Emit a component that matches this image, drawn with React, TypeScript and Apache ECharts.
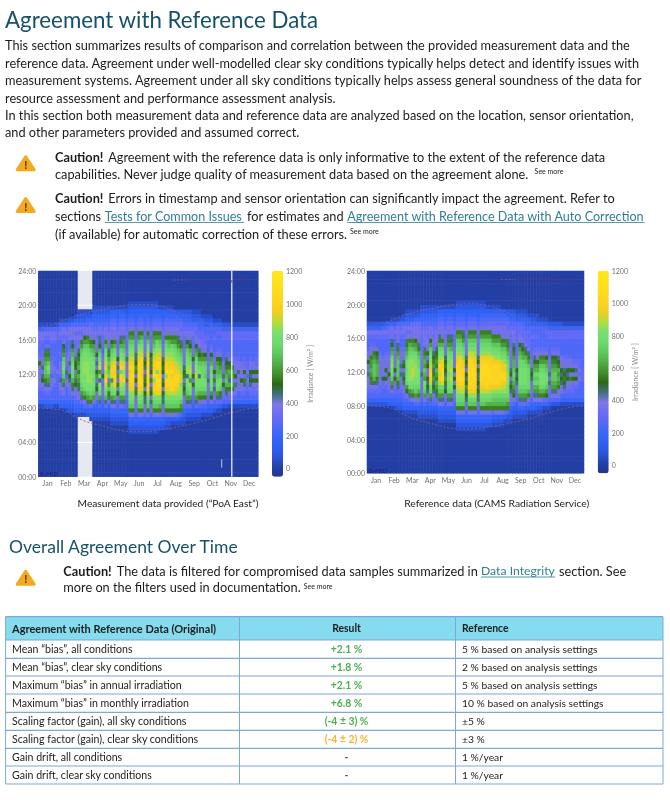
import React, { useEffect, useRef } from "react";
import * as echarts from "echarts";

const FONT = "Lato";

// Heatmap cells: one string per 5-day column, one character per half hour from 05:00 to 20:30.
// Character = base-36 digit in steps of 50 W/m²; "." = no data.
const measuredColumns = [
  "00000014 55678878 a8656677 41000000", "00000014 5567a989 87665677 41000000", "00000024 5679bdee dcb96567 51000000",
  "00000024 5679cdfg ecb96567 51000000", "00000024 55678587 86555677 51000000", "00000014 55567667 56555677 51000000",
  "00000014 55555575 55555566 52000000", "00000034 56789688 75655567 64100000", "00000034 5789cefg fecba867 74100000",
  "00000134 55578596 87655567 64100000", "00000234 56789a87 98765578 74200000", "00000234 579bdffg fedca978 75200000",
  "00001345 678a9c8a a9876676 75310000", "....1345 789bcdbd cba98676 75321...", "....1346 9cefgggg ggfecb86 75321...",
  "....1357 bdfggghh hggfeca7 75321...", "....2359 cegghhhh hggfecb7 75421...", "...1236b dfgghhgg ggfecb87 76421...",
  "00012348 cefgfgfg gfedca87 65432100", "00012345 78a98ca8 98a87767 65432100", "00012359 cfgh9gci hgfda997 75432100",
  "00012345 67868a87 77656667 65432100", "00012369 dfgikjhj ihgfdb87 75432100", "00012347 9bec8fed edb98877 65432100",
  "00123479 cfghcjkj igfeca87 76543100", "00123479 dfhjkkjk jhgfdb87 76543100", "00123456 7a8b7c89 8a876677 65433100",
  "00123479 cfgijkfk jhgfdb97 76543100", "00123469 cfghkihj igfedc97 76543100", "00123455 67889787 89876667 65432100",
  "12347bef ghijkkjk jihgfecb 86543210", "12347bef ghjjklkk jihgfecb 86543210", "12345678 8b97a8bc a9987767 65433210",
  "12347bef gijkllkk kjihgecb 86543210", "12347bef ghjkkjkk kkihgfdb 86543210", "12346789 9a8ab989 a9887767 65443210",
  "12347bef gikkkllk kjihgecb 86543210", "12345789 8a97b8a9 b9a87767 65433210", "12347bef gikjhlkj jihgedcb 86543210",
  "12347bef gjkkllgk kjihgfcb 76543210", "02347bdf gjkllkjk kjihfecb 76543100", "02346789 9a8a97ab a9887667 65433100",
  "01238bef ghjkkhkk jihgfeb8 76543100", "01238bef gijkkkkj jihgedb8 76543100", "00138bef gikkkjkk jihgfcb8 76543100",
  "00137bef gijkkkjj ihgfecb8 76543000", "00136bef ghijkkji hgfecb97 76542000", "00125bce ghhgiihh gfedb987 66532000",
  "00123467 89a98ba9 88776667 65432000", "00012469 cefgh9hh ggfeca87 65432000", "00012469 cfghcgih gfeda987 65432000",
  "00012345 678a8a87 8a876667 65321000", "00012369 cefggihh gfdca876 65321000", "00012358 bdfgg9gf eca97766 54321000",
  "00001358 bdfgggff ecb87766 54310000", "00001357 bdfggeff eca87665 53210000", "00001345 67889787 76655565 53210000",
  "00001347 acfgggff dca86555 54210000", "00000245 7898b8a8 87655565 53100000", "00000146 9cfgfedd ca865556 53100000",
  "00000136 9befgedc ba865556 53100000", "00000025 678a8987 75555566 42000000", "00000025 69bdedcb a9655566 42000000",
  "00000015 68bd9cdb a8655566 42000000", "00000014 57ac8cca 87555566 41000000", "00000014 57898a87 76555566 41000000",
  "00000014 55788797 76555566 41000000", "00000014 5678a788 75555566 41000000", "00000014 5679b8a7 66555566 41000000",
  "00000014 55668576 65555566 41000000", "00000014 5679a9a7 76555566 41000000", "00000014 5667a8a7 75555566 41000000",
  "00000014 5678a8a8 66555566 41000000",
];
const referenceColumns = [
  "00000024 56788988 a8765567 42000000", "00000024 5679bcdc cb876567 42000000", "00000024 567bdeee dcb86567 42000000",
  "00000024 5679bddd cba85567 42000000", "00000024 56678787 87655567 42000000", "00000024 5566a788 76555567 52000000",
  "00000024 5567a8a7 87655567 53000000", "00000034 56788a88 87655567 64000000", "00000034 579cefgh gfdca977 74100000",
  "00000134 5678a8a8 88765567 64100000", "00000234 569bdeee edcb9777 75100000", "00000234 56788989 88765567 65200000",
  "00001345 6789a98a 98765567 75210000", "00001345 7acfggfg gedcb976 75321000", "00001346 9cfghhhh hgfedb86 75321000",
  "00001347 bdfghiih hgfecb87 76321000", "00001358 cefgghhh ggfdca87 76421000", "00012358 bdfggggf fedb9877 76421000",
  "00012345 67888987 87766667 65432100", "00012358 cefgcdec dcb98777 65432100", "00012345 89a9a88a 98a87767 65432100",
  "00012359 cfgijkji hgfeca87 75432100", "00012356 89a9cb9c ba987767 65432100", "00012356 9bcdbcdb cba98777 65432100",
  "00123479 cefhjijk ihgfdb97 76543100", "00123479 cefjkkkj jhgfdb87 76543100", "00123456 7a9bc9ab a9877767 65433100",
  "00123479 cfgghghh ggfecb97 76543100", "00123479 cfghihih hgfdcb97 76543100", "00123456 78a8a7a8 88776667 65433100",
  "12347bef ghijkkkk jihgfecb 86543210", "12347bef gijkllkk kjhgfecb 86543210", "12347bef gijkkkkj jhgfecb9 76543210",
  "12345789 a9ca9a89 a9877767 65433210", "12347bef hjkklllk kjigfecb 86543210", "12347bef hjkkkllk kjigfecb 86543210",
  "12347bef hjkkllkk jihgfecb 86543210", "12345689 9a9a99a8 a9877767 65433210", "12347bef gijklllk kjhgfecb 86543210",
  "12347bef gijkklll kjhgfecb 86543210", "02347bdf gikkklll kjhgfecb 76543100", "02347bdf gijklllk kjhgfecb 76543100",
  "01236bde fhjkkkkk jigfecb7 76543100", "01238bde fhjkkkkk jhgfecb7 76543100", "01237bde fhjkkkkk jhgfecb7 76543100",
  "01237bde fhijkkjj igfecb87 76543000", "00136bde fhijkkjj hgfecb87 76542000", "00125bce fgghhhgg fedcb987 66532000",
  "00123467 89a98a98 87776667 65432000", "00012358 abcdefed dcba9877 65432000", "00012345 6789a9a8 87666666 65321000",
  "00012469 cefggggf fedca876 65321000", "00012469 cefggggf fdca9766 65321000", "00012369 cefggggf edb97666 54321000",
  "00001358 bdfffffe cb976656 54310000", "00001345 67889a98 76655565 53210000", "00001347 9cdfefdc a9765565 53210000",
  "00001247 9cdfefdc a8765565 53110000", "00001247 bdfgggfe cb865555 53100000", "00000146 bdfgggfe cb865555 53100000",
  "00000146 acefgfed ca865556 53100000", "00000135 67898987 76555566 42000000", "00000025 79cdeedc ba865566 42000000",
  "00000025 79cdeedc ba765566 42000000", "00000025 78bcdcdb a9765566 42000000", "00000014 5789a9a8 87555566 42000000",
  "00000014 569aba98 76555566 41000000", "00000014 5678a9a8 76555566 41000000", "00000014 5678b8a7 86555566 41000000",
  "00000014 5668a8a7 65555566 41000000", "00000014 5567a897 65555566 41000000", "00000014 55567676 65555566 41000000",
  "00000014 55556665 55555566 41000000",
];
const measuredGapColumns = [13, 14, 15, 16, 17];

const months = ["Jan", "Feb", "Mar", "Apr", "May", "Jun", "Jul", "Aug", "Sep", "Oct", "Nov", "Dec"];
const colorbarTicks = [0, 200, 400, 600, 800, 1000, 1200];
const sunrise = [[0, 8.0], [25, 7.9], [47, 7.6], [63, 6.9], [102, 6.0], [165, 5.25], [200, 5.45], [257, 6.2], [288, 6.8], [318, 7.45], [348, 7.9], [365, 8.0]];
const sunset = [[0, 17.4], [30, 17.9], [63, 18.75], [102, 19.45], [174, 20.1], [196, 20.0], [227, 19.3], [257, 18.5], [290, 17.6], [318, 17.2], [349, 17.25], [365, 17.4]];
const missingDayLine = [[321, 0], [321, 24]];
const spikeLine = [[304.3, 1.05], [304.3, 2.03]];
const gapGridLow = [[65, 4], [90, 4]];
const gapGridHigh = [[65, 20], [90, 20]];

const colorStops = [
  "#22358f", "#2541a9", "#2a55dc", "#2d60f4", "#3a66f8", "#5469f8", "#6c6cf4", "#7d78e8", "#41707e", "#2c6814", "#42902e",
  "#52ad48", "#5fc85e", "#6cdb6c", "#78e070", "#b4dc3a", "#f0ce20", "#ffd41e", "#ffdc1c", "#ffe31a", "#ffe81a",
];

const introLines = [
  "This section summarizes results of comparison and correlation between the provided measurement data and the",
  "reference data. Agreement under well-modelled clear sky conditions typically helps detect and identify issues with",
  "measurement systems. Agreement under all sky conditions typically helps assess general soundness of the data for",
  "resource assessment and performance assessment analysis.",
  "In this section both measurement data and reference data are analyzed based on the location, sensor orientation,",
  "and other parameters provided and assumed correct.",
];
const introLineY = [45, 62.7, 80.3, 97.7, 115, 132.3];

const tableHeader = ["Agreement with Reference Data (Original)", "Result", "Reference"];
const tableMetrics = [
  "Mean \u201cbias\u201d, all conditions", "Mean \u201cbias\u201d, clear sky conditions", "Maximum \u201cbias\u201d in annual irradiation",
  "Maximum \u201cbias\u201d in monthly irradiation", "Scaling factor (gain), all sky conditions", "Scaling factor (gain), clear sky conditions",
  "Gain drift, all conditions", "Gain drift, clear sky conditions",
];
const tableResults = ["+2.1 %", "+1.8 %", "+2.1 %", "+6.8 %", "(-4 \u00b1 3) %", "(-4 \u00b1 2) %", "-", "-"];
const tableResultColors = ["#4caf50", "#4caf50", "#4caf50", "#4caf50", "#4caf50", "#f9b233", "#555555", "#555555"];
const tableReferences = [
  "5 % based on analysis settings", "2 % based on analysis settings", "5 % based on analysis settings", "10 % based on analysis settings",
  "\u00b15 %", "\u00b13 %", "1 %/year", "1 %/year",
];
const tableRowLines = [640, 658.3, 676, 694, 712.3, 730.3, 748.3, 766, 784];

function cells(columns: string[], gaps: number[]) {
  const out: number[][] = [];
  columns.forEach((col, c) => {
    const s = col.replace(/ /g, "");
    for (let r = 0; r < 48; r++) {
      const inRange = r >= 10 && r < 42;
      const ch = inRange ? s[r - 10] : gaps.includes(c) ? "." : "0";
      if (ch !== ".") out.push([c, r, parseInt(ch, 36) * 50]);
    }
  });
  return out;
}

const T = (text: string, x: number, y: number, o: any = {}) => ({
  type: "text", x, y, silent: true, z: 10,
  style: { text, fill: o.fill ?? "#1c1c1c", fontSize: o.size ?? 12.75, fontFamily: FONT, fontWeight: o.weight ?? "normal", align: o.align ?? "left", verticalAlign: "middle" },
});
const L = (x1: number, y1: number, x2: number, y2: number, stroke: string, w = 1, dash?: number[]) => ({
  type: "line", silent: true, z: 9, shape: { x1, y1, x2, y2 }, style: { stroke, lineWidth: w, lineDash: dash },
});
const icon = (cx: number, cy: number) => [
  { type: "polygon", silent: true, z: 9, shape: { points: [[cx, cy - 6.5], [cx + 8.5, cy + 6.5], [cx - 8.5, cy + 6.5]] }, style: { fill: "#f5a921", stroke: "#f5a921", lineWidth: 3, lineJoin: "round" } },
  { ...T("!", cx, cy + 1, { size: 11, weight: "bold", fill: "#4a3300", align: "center" }) },
];

function buildOption() {
  const plots = [
    { x: 38.3, y: 271, w: 220, h: 205.7, barX: 272, data: cells(measuredColumns, measuredGapColumns), cols: measuredColumns.length, extra: true },
    { x: 367, y: 271, w: 217, h: 202.3, barX: 597.7, data: cells(referenceColumns, []), cols: referenceColumns.length, extra: false },
  ];
  const grid: any[] = [], xAxis: any[] = [], yAxis: any[] = [], series: any[] = [], visualMap: any[] = [];
  const lab = { fontSize: 7, color: "#707070", fontFamily: FONT };
  const rows = Array.from({ length: 48 }, (_, i) => String(i));
  plots.forEach((p) => {
    const g = grid.length, xb = xAxis.length, yb = yAxis.length;
    grid.push({ left: p.x, top: p.y, width: p.w, height: p.h, show: true, backgroundColor: "#e6e8f2", borderWidth: 0 });
    grid.push({ left: p.barX, top: p.y, width: 11, height: p.h, show: false });
    xAxis.push(
      { type: "category", gridIndex: g, show: false, data: Array.from({ length: p.cols }, (_, i) => String(i)) },
      { type: "category", gridIndex: g, data: months, position: "bottom", axisLine: { show: false }, axisTick: { show: false }, axisLabel: { ...lab, interval: 0, margin: 3 } },
      { type: "value", gridIndex: g, show: false, min: 0, max: 365, splitLine: { show: false } },
      { type: "value", gridIndex: g + 1, show: false, min: 0, max: 1, splitLine: { show: false } },
    );
    yAxis.push(
      { type: "category", gridIndex: g, show: false, data: rows },
      { type: "value", gridIndex: g, position: "left", min: 0, max: 24, interval: 4, axisLine: { show: false }, axisTick: { show: false }, axisLabel: { ...lab, margin: 2, formatter: (v: number) => String(v).padStart(2, "0") + ":00" }, splitLine: { show: false } },
      { type: "value", gridIndex: g + 1, position: "right", min: -50, max: 1200, axisLine: { show: false }, axisTick: { show: false }, splitLine: { show: false },
        axisLabel: { ...lab, margin: 3, customValues: colorbarTicks, formatter: (v: number) => String(v) },
        name: "Irradiance [ W/m\u00b2 ]", nameLocation: "middle", nameRotate: 90, nameGap: 19, nameTextStyle: { fontSize: 7, color: "#8a8a8a", fontFamily: FONT } },
    );
    const sIdx = series.length;
    series.push({ type: "heatmap", xAxisIndex: xb, yAxisIndex: yb, data: p.data, progressive: 0, silent: true, emphasis: { disabled: true }, z: 2 });
    visualMap.push({ type: "continuous", seriesIndex: sIdx, min: -50, max: 1200, left: p.barX, top: p.y, itemWidth: 11, itemHeight: p.h, padding: 0, calculable: false, realtime: false, showLabel: false, hoverLink: false, inRange: { color: colorStops } });
    const line = (data: number[][], color: string, type: any, width: number, smooth: boolean) => ({
      type: "line", xAxisIndex: xb + 2, yAxisIndex: yb + 1, data, symbol: "none", smooth, silent: true, z: 4, lineStyle: { color, type, width, opacity: 0.9 },
    });
    series.push(line(sunrise, "#8c5c8c", [2, 2], 1, true), line(sunset, "#8c5c8c", [2, 2], 1, true));
    if (p.extra) series.push(
      line(missingDayLine, "#ffffff", "solid", 1.3, false),
      line(spikeLine, "#c8d6f2", "solid", 1, false),
      line(gapGridLow, "#ffffff", "solid", 1, false),
      line(gapGridHigh, "#ffffff", "solid", 1, false),
    );
  });

  const LINK = "#2f7f94";
  const elements: any[] = [
    T("Agreement with Reference Data", 5, 19.5, { size: 22.3, fill: "#17506b" }),
    ...introLines.map((t, i) => T(t, 5, introLineY[i])),
    ...icon(25.7, 163.3), ...icon(25.7, 205), ...icon(25.7, 577.7),
    T("Caution!", 55, 156.7, { weight: "bold" }),
    T("Agreement with the reference data is only informative to the extent of the reference data", 108.2, 156.7),
    T("capabilities. Never judge quality of measurement data based on the agreement alone.", 55, 174.3),
    T("See more", 534.6, 171, { size: 7 }),
    T("Caution!", 55, 198, { weight: "bold" }),
    T("Errors in timestamp and sensor orientation can significantly impact the agreement. Refer to", 108.2, 198),
    T("sections", 55, 216),
    T("Tests for Common Issues", 104.8, 216, { fill: LINK, size: 12.6 }), L(104.8, 222.5, 243.8, 222.5, LINK, 0.8),
    T("for estimates and", 247, 216),
    T("Agreement with Reference Data with Auto Correction", 347.3, 216, { fill: LINK, size: 12.6 }), L(347.3, 222.5, 644.6, 222.5, LINK, 0.8),
    T("(if available) for automatic correction of these errors.", 55, 234),
    T("See more", 350, 231, { size: 7 }),
    T("Measurement data provided (\u201cPoA East\u201d)", 168, 502.7, { size: 10.2, align: "center" }),
    T("Reference data (CAMS Radiation Service)", 496.7, 502.7, { size: 10.3, align: "center" }),
    // in-plot annotations
    L(173, 280, 186, 280, "#7a4f86", 1, [2, 2]), T("Sunrise/Sunset UTC", 192, 280, { size: 6.5, fill: "#4a3585" }),
    L(501, 279.5, 514, 279.5, "#7a4f86", 1, [2, 2]), T("Sunrise/Sunset UTC", 519, 279.5, { size: 6.5, fill: "#4a3585" }),
    T("B-FKD", 40, 473, { size: 6, fill: "#16246f" }), T("B-FKD", 369, 470, { size: 6, fill: "#16246f" }),
    T("Overall Agreement Over Time", 9, 546.7, { size: 17.5, fill: "#17506b" }),
    T("Caution!", 63.3, 570.7, { weight: "bold" }),
    T("The data is filtered for compromised data samples summarized in", 116.8, 570.7),
    T("Data Integrity", 481, 570.7, { fill: LINK, size: 12.2 }), L(481, 577, 555, 577, LINK, 0.8),
    T("section. See", 559, 570.7),
    T("more on the filters used in documentation.", 63.3, 587.3),
    T("See more", 303.7, 585.5, { size: 7 }),
    // table
    { type: "rect", silent: true, z: 8, shape: { x: 5.6, y: 616.7, width: 657.4, height: 23.3 }, style: { fill: "#85dcee" } },
    L(5.6, 616.7, 663, 616.7, "#7ea6dc", 1.2),
    ...tableRowLines.map((y) => L(5.6, y, 663, y, "#7ea6dc", 1.2)),
    ...[5.6, 239.5, 455.5, 663].map((x) => L(x, 616.7, x, 784, "#7ea6dc", 1)),
    T(tableHeader[0], 12, 628, { size: 11, weight: "bold" }),
    T(tableHeader[1], 346.5, 628, { size: 10.4, weight: "bold", align: "center" }),
    T(tableHeader[2], 462, 628, { size: 10.4, weight: "bold" }),
    ...tableMetrics.map((t, i) => T(t, 12, (tableRowLines[i] + tableRowLines[i + 1]) / 2, { size: 10.6 })),
    ...tableResults.map((t, i) => T(t, 346.5, (tableRowLines[i] + tableRowLines[i + 1]) / 2, { size: 10.4, weight: "bold", align: "center", fill: tableResultColors[i] })),
    ...tableReferences.map((t, i) => T(t, 462, (tableRowLines[i] + tableRowLines[i + 1]) / 2, { size: 10.3 })),
  ];
  return { animation: false, backgroundColor: "#ffffff", grid, xAxis, yAxis, visualMap, series, graphic: { elements } };
}

export default function App() {
  const ref = useRef<HTMLDivElement>(null);
  useEffect(() => {
    const chart = echarts.init(ref.current!, undefined, { renderer: "svg" });
    chart.setOption(buildOption() as any);
    return () => chart.dispose();
  }, []);
  return <div ref={ref} style={{ position: "absolute", left: 0, top: 0, width: 670, height: 811, filter: "blur(0.5px)" }} />;
}
